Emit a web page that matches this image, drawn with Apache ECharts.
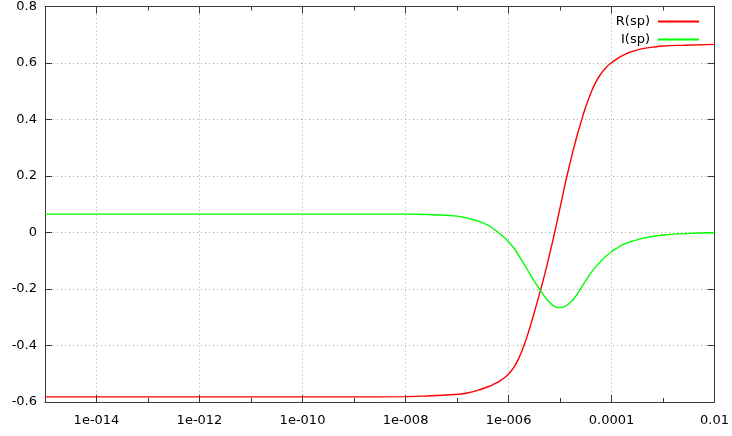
<!DOCTYPE html>
<html>
<head>
<meta charset="utf-8">
<script src="https://cdn.jsdelivr.net/npm/echarts@6/dist/echarts.min.js"></script>
<style>
  html, body { margin: 0; padding: 0; background: #fff; }
  #chart { width: 732px; height: 436px; }
</style>
</head>
<body>
<div id="chart"></div>
<script>
// log10 of sp along the horizontal axis
const logSp = [-15, -12, -9, -8, -7.5, -7.0, -6.9, -6.8, -6.7, -6.6, -6.5, -6.4, -6.3, -6.2, -6.1, -6.0,
  -5.9, -5.8, -5.7, -5.6, -5.5, -5.4, -5.3, -5.2, -5.1, -5.0,
  -4.9, -4.8, -4.7, -4.6, -4.5, -4.4, -4.3, -4.2, -4.1, -4.0,
  -3.9, -3.8, -3.7, -3.6, -3.4, -3.2, -3.0, -2.6, -2.0];

// R(sp)
const realPart = [-0.582, -0.582, -0.582, -0.581, -0.578, -0.573, -0.571, -0.568, -0.564, -0.559, -0.553, -0.546, -0.538, -0.529, -0.517, -0.501,
  -0.478, -0.445, -0.400, -0.345, -0.283, -0.218, -0.150, -0.075, 0.004, 0.087,
  0.172, 0.250, 0.322, 0.386, 0.445, 0.494, 0.534, 0.563, 0.585, 0.601,
  0.614, 0.625, 0.634, 0.641, 0.651, 0.656, 0.660, 0.663, 0.666];

// I(sp)
const imagPart = [0.065, 0.065, 0.065, 0.065, 0.063, 0.058, 0.055, 0.051, 0.046, 0.041, 0.034, 0.026, 0.014, 0.000, -0.015, -0.033,
  -0.054, -0.082, -0.111, -0.142, -0.172, -0.200, -0.226, -0.248, -0.262, -0.266,
  -0.261, -0.248, -0.227, -0.199, -0.170, -0.143, -0.120, -0.100, -0.083, -0.068,
  -0.056, -0.045, -0.037, -0.031, -0.021, -0.014, -0.009, -0.004, -0.001];

// axis ticks
const xMajorTicks = [-14, -12, -10, -8, -6, -4, -2];
const xMajorLabels = ['1e-014', '1e-012', '1e-010', '1e-008', '1e-006', '0.0001', '0.01'];
const xMinorTicks = [-13, -11, -9, -7, -5, -3];
const yTicks = [-0.6, -0.4, -0.2, 0, 0.2, 0.4, 0.6, 0.8];
const yTickLabels = ['-0.6', '-0.4', '-0.2', '0', '0.2', '0.4', '0.6', '0.8'];

const FONT = 'DejaVu Sans';
const FONT_SIZE = 13;
const axisColor = '#3a3a3a';
const gridLine = { show: true, lineStyle: { color: '#a8a8a8', width: 1, type: [1, 3] } };

function labelFor(values, labels) {
  return function (v) {
    for (let i = 0; i < values.length; i++) {
      if (Math.abs(values[i] - v) < 1e-9) return labels[i];
    }
    return '';
  };
}

const xBase = { type: 'value', min: -15, max: -2, gridIndex: 0 };

const chart = echarts.init(document.getElementById('chart'), null, { renderer: 'canvas' });
chart.setOption({
  animation: false,
  backgroundColor: '#ffffff',
  grid: { left: 45, right: 17, top: 4, bottom: 34, containLabel: false },
  xAxis: [
    Object.assign({}, xBase, {
      position: 'bottom',
      axisLine: { show: true, onZero: false, lineStyle: { color: axisColor, width: 1 } },
      axisTick: { show: true, inside: true, length: 7, customValues: xMajorTicks, lineStyle: { color: axisColor } },
      axisLabel: { show: true, customValues: xMajorTicks, formatter: labelFor(xMajorTicks, xMajorLabels),
        color: '#000', fontFamily: FONT, fontSize: FONT_SIZE, margin: 12 },
      splitLine: gridLine
    }),
    Object.assign({}, xBase, {
      position: 'bottom',
      axisLine: { show: false, onZero: false },
      axisTick: { show: true, inside: true, length: 4, customValues: xMinorTicks, lineStyle: { color: axisColor } },
      axisLabel: { show: false },
      splitLine: { show: false }
    }),
    Object.assign({}, xBase, {
      position: 'top',
      axisLine: { show: true, onZero: false, lineStyle: { color: axisColor, width: 1 } },
      axisTick: { show: true, inside: true, length: 7, customValues: xMajorTicks, lineStyle: { color: axisColor } },
      axisLabel: { show: false },
      splitLine: { show: false }
    }),
    Object.assign({}, xBase, {
      position: 'top',
      axisLine: { show: false, onZero: false },
      axisTick: { show: true, inside: true, length: 4, customValues: xMinorTicks, lineStyle: { color: axisColor } },
      axisLabel: { show: false },
      splitLine: { show: false }
    })
  ],
  yAxis: [
    {
      type: 'value', min: -0.6, max: 0.8, position: 'left',
      axisLine: { show: true, onZero: false, lineStyle: { color: axisColor, width: 1 } },
      axisTick: { show: true, inside: true, length: 7, customValues: yTicks, lineStyle: { color: axisColor } },
      axisLabel: { show: true, customValues: yTicks, formatter: labelFor(yTicks, yTickLabels),
        color: '#000', fontFamily: FONT, fontSize: FONT_SIZE, margin: 8 },
      splitLine: gridLine
    },
    {
      type: 'value', min: -0.6, max: 0.8, position: 'right',
      axisLine: { show: true, onZero: false, lineStyle: { color: axisColor, width: 1 } },
      axisTick: { show: true, inside: true, length: 7, customValues: yTicks, lineStyle: { color: axisColor } },
      axisLabel: { show: false },
      splitLine: { show: false }
    }
  ],
  legend: [
    {
      data: ['R(sp)'], orient: 'vertical', right: 28, top: 10, align: 'right',
      icon: 'rect', itemWidth: 41, itemHeight: 2,
      textStyle: { color: '#000', fontFamily: FONT, fontSize: FONT_SIZE, padding: [0, 3, 0, 0] }
    },
    {
      data: ['I(sp)'], orient: 'vertical', right: 28, top: 28, align: 'right',
      icon: 'rect', itemWidth: 41, itemHeight: 2,
      textStyle: { color: '#000', fontFamily: FONT, fontSize: FONT_SIZE, padding: [0, 3, 0, 0] }
    }
  ],
  series: [
    {
      name: 'R(sp)', type: 'line', xAxisIndex: 0, yAxisIndex: 0,
      data: logSp.map((x, i) => [x, realPart[i]]),
      showSymbol: false, smooth: 0.5,
      lineStyle: { color: '#ff0000', width: 1.4 }, itemStyle: { color: '#ff0000' }
    },
    {
      name: 'I(sp)', type: 'line', xAxisIndex: 0, yAxisIndex: 0,
      data: logSp.map((x, i) => [x, imagPart[i]]),
      showSymbol: false, smooth: 0.5,
      lineStyle: { color: '#00ff00', width: 1.4 }, itemStyle: { color: '#00ff00' }
    }
  ]
});
</script>
</body>
</html>
